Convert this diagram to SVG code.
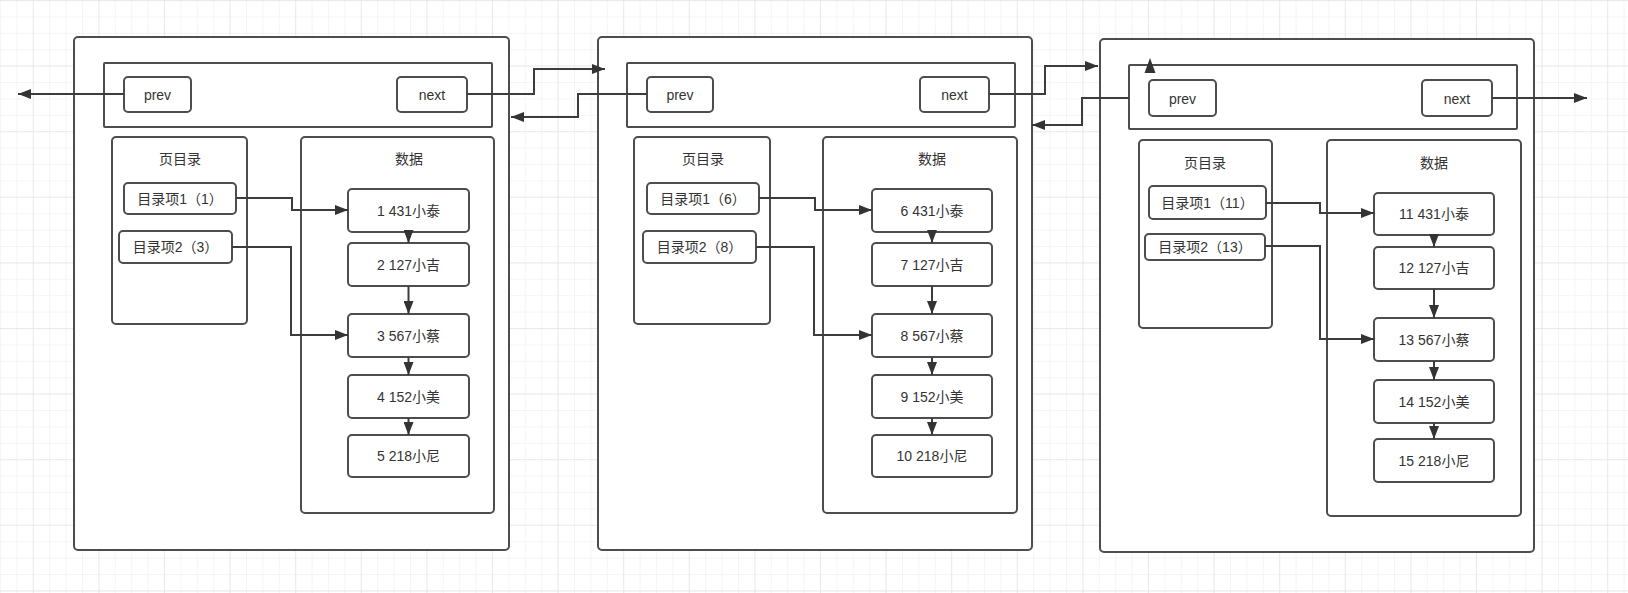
<svg xmlns="http://www.w3.org/2000/svg" width="1628" height="593" viewBox="0 0 1628 593">
<style>
.box{fill:#fff;stroke:#4d4d4d;stroke-width:2}
.con{fill:none;stroke:#3c3c3c;stroke-width:2}
.t{font-family:"Liberation Sans","Noto Sans CJK SC",sans-serif;font-size:14px;fill:#333;text-anchor:middle;dominant-baseline:central}
</style>
<defs>
<pattern id="minor" width="16.4" height="16.4" patternUnits="userSpaceOnUse">
<path d="M0 0 V16.4 M0 0 H16.4" fill="none" stroke="#ececec" stroke-width="1"/>
</pattern>
<pattern id="major" x="32.8" y="0" width="65.6" height="65.6" patternUnits="userSpaceOnUse">
<path d="M0 0 V65.6 M0 0 H65.6" fill="none" stroke="#dedede" stroke-width="1"/>
</pattern>
<marker id="ah" viewBox="0 0 13 10" refX="13" refY="5" markerWidth="13" markerHeight="10" markerUnits="userSpaceOnUse" orient="auto">
<path d="M0 0 L13 5 L0 10 z" fill="#333"/>
</marker>
</defs>
<rect width="1628" height="593" fill="#fff"/>
<rect width="1628" height="593" fill="url(#minor)"/>
<rect width="1628" height="593" fill="url(#major)"/>

<!-- Page 1 -->
<g id="page1">
<rect class="box" x="74" y="37" width="435" height="513" rx="4"/>
<rect class="box" x="104" y="63" width="388" height="64" rx="1"/>
<g id="p1-prev"><rect class="box" x="124" y="77" width="67" height="35" rx="4"/><text class="t" x="157.5" y="95">prev</text></g>
<g id="p1-next"><rect class="box" x="397" y="77" width="70" height="35" rx="4"/><text class="t" x="432" y="95">next</text></g>
<g id="p1-dir"><rect class="box" x="112" y="137" width="135" height="187" rx="4"/><text class="t" x="180" y="159">页目录</text></g>
<g id="p1-data"><rect class="box" x="301" y="137" width="193" height="376" rx="4"/><text class="t" x="409" y="159">数据</text></g>
<g id="p1-d1"><rect class="box" x="124" y="183" width="112" height="31" rx="4"/><text class="t" x="180" y="198.5">目录项1（1）</text></g>
<g id="p1-d2"><rect class="box" x="119" y="231" width="113" height="32" rx="4"/><text class="t" x="175.5" y="247">目录项2（3）</text></g>
<g id="p1-r1"><rect class="box" x="348" y="189" width="121" height="43" rx="4"/><text class="t" x="408.5" y="210.5">1 431小泰</text></g>
<g id="p1-r2"><rect class="box" x="348" y="243" width="121" height="43" rx="4"/><text class="t" x="408.5" y="264.5">2 127小吉</text></g>
<g id="p1-r3"><rect class="box" x="348" y="314" width="121" height="43" rx="4"/><text class="t" x="408.5" y="335.5">3 567小蔡</text></g>
<g id="p1-r4"><rect class="box" x="348" y="375" width="121" height="43" rx="4"/><text class="t" x="408.5" y="396.5">4 152小美</text></g>
<g id="p1-r5"><rect class="box" x="348" y="435" width="121" height="42" rx="4"/><text class="t" x="408.5" y="456">5 218小尼</text></g>
</g>

<!-- Page 2 -->
<g id="page2">
<rect class="box" x="598" y="37" width="434" height="513" rx="4"/>
<rect class="box" x="627" y="63" width="388" height="64" rx="1"/>
<g id="p2-prev"><rect class="box" x="647" y="77" width="66" height="35" rx="4"/><text class="t" x="680" y="95">prev</text></g>
<g id="p2-next"><rect class="box" x="920" y="77" width="69" height="35" rx="4"/><text class="t" x="954.5" y="95">next</text></g>
<g id="p2-dir"><rect class="box" x="634" y="137" width="136" height="187" rx="4"/><text class="t" x="703" y="159">页目录</text></g>
<g id="p2-data"><rect class="box" x="823" y="137" width="194" height="376" rx="4"/><text class="t" x="932" y="159">数据</text></g>
<g id="p2-d1"><rect class="box" x="647" y="183" width="112" height="31" rx="4"/><text class="t" x="703" y="198.5">目录项1（6）</text></g>
<g id="p2-d2"><rect class="box" x="643" y="231" width="113" height="32" rx="4"/><text class="t" x="699.5" y="247">目录项2（8）</text></g>
<g id="p2-r1"><rect class="box" x="872" y="189" width="120" height="43" rx="4"/><text class="t" x="932" y="210.5">6 431小泰</text></g>
<g id="p2-r2"><rect class="box" x="872" y="243" width="120" height="43" rx="4"/><text class="t" x="932" y="264.5">7 127小吉</text></g>
<g id="p2-r3"><rect class="box" x="872" y="314" width="120" height="43" rx="4"/><text class="t" x="932" y="335.5">8 567小蔡</text></g>
<g id="p2-r4"><rect class="box" x="872" y="375" width="120" height="43" rx="4"/><text class="t" x="932" y="396.5">9 152小美</text></g>
<g id="p2-r5"><rect class="box" x="872" y="435" width="120" height="42" rx="4"/><text class="t" x="932" y="456">10 218小尼</text></g>
</g>

<!-- Page 3 -->
<g id="page3">
<rect class="box" x="1100" y="39" width="434" height="513" rx="4"/>
<rect class="box" x="1129" y="65" width="388" height="64" rx="1"/>
<g id="p3-prev"><rect class="box" x="1149" y="80" width="67" height="36" rx="4"/><text class="t" x="1182.5" y="98.5">prev</text></g>
<g id="p3-next"><rect class="box" x="1422" y="80" width="70" height="36" rx="4"/><text class="t" x="1457" y="98.5">next</text></g>
<g id="p3-dir"><rect class="box" x="1139" y="140" width="133" height="188" rx="4"/><text class="t" x="1205" y="163">页目录</text></g>
<g id="p3-data"><rect class="box" x="1327" y="140" width="194" height="376" rx="4"/><text class="t" x="1434" y="163">数据</text></g>
<g id="p3-d1"><rect class="box" x="1149" y="186" width="117" height="33" rx="4"/><text class="t" x="1207.5" y="202.5">目录项1（11）</text></g>
<g id="p3-d2"><rect class="box" x="1145" y="234" width="120" height="26" rx="4"/><text class="t" x="1205" y="247">目录项2（13）</text></g>
<g id="p3-r1"><rect class="box" x="1374" y="193" width="120" height="42" rx="4"/><text class="t" x="1434" y="214">11 431小泰</text></g>
<g id="p3-r2"><rect class="box" x="1374" y="247" width="120" height="42" rx="4"/><text class="t" x="1434" y="268">12 127小吉</text></g>
<g id="p3-r3"><rect class="box" x="1374" y="318" width="120" height="43" rx="4"/><text class="t" x="1434" y="339.5">13 567小蔡</text></g>
<g id="p3-r4"><rect class="box" x="1374" y="380" width="120" height="43" rx="4"/><text class="t" x="1434" y="401.5">14 152小美</text></g>
<g id="p3-r5"><rect class="box" x="1374" y="439" width="120" height="43" rx="4"/><text class="t" x="1434" y="460.5">15 218小尼</text></g>
</g>

<!-- Connectors -->
<g id="connectors">
<path class="con" marker-end="url(#ah)" d="M124 94 H18"/>
<path class="con" marker-end="url(#ah)" d="M467 94 H534 V69 H605"/>
<path class="con" marker-end="url(#ah)" d="M647 94 H578 V117 H511"/>
<path class="con" marker-end="url(#ah)" d="M989 94 H1045 V66 H1098"/>
<path class="con" marker-end="url(#ah)" d="M1129 98 H1082 V125 H1032"/>
<path class="con" marker-end="url(#ah)" d="M1492 98 H1587"/>
<polygon points="1150,58 1155.5,73 1144.5,73" fill="#333"/>

<path class="con" marker-end="url(#ah)" d="M236 198 H292 V210 H348"/>
<path class="con" marker-end="url(#ah)" d="M232 247 H291 V335 H348"/>
<path class="con" marker-end="url(#ah)" d="M408.5 232 V243"/>
<path class="con" marker-end="url(#ah)" d="M408.5 286 V314"/>
<path class="con" marker-end="url(#ah)" d="M408.5 357 V375"/>
<path class="con" marker-end="url(#ah)" d="M408.5 418 V435"/>

<path class="con" marker-end="url(#ah)" d="M759 198 H815 V210 H872"/>
<path class="con" marker-end="url(#ah)" d="M756 247 H814 V335 H872"/>
<path class="con" marker-end="url(#ah)" d="M932 232 V243"/>
<path class="con" marker-end="url(#ah)" d="M932 286 V314"/>
<path class="con" marker-end="url(#ah)" d="M932 357 V375"/>
<path class="con" marker-end="url(#ah)" d="M932 418 V435"/>

<path class="con" marker-end="url(#ah)" d="M1266 203 H1320 V213 H1374"/>
<path class="con" marker-end="url(#ah)" d="M1265 246 H1320 V339 H1374"/>
<path class="con" marker-end="url(#ah)" d="M1434 235 V247"/>
<path class="con" marker-end="url(#ah)" d="M1434 289 V318"/>
<path class="con" marker-end="url(#ah)" d="M1434 361 V380"/>
<path class="con" marker-end="url(#ah)" d="M1434 423 V439"/>
</g>
</svg>
